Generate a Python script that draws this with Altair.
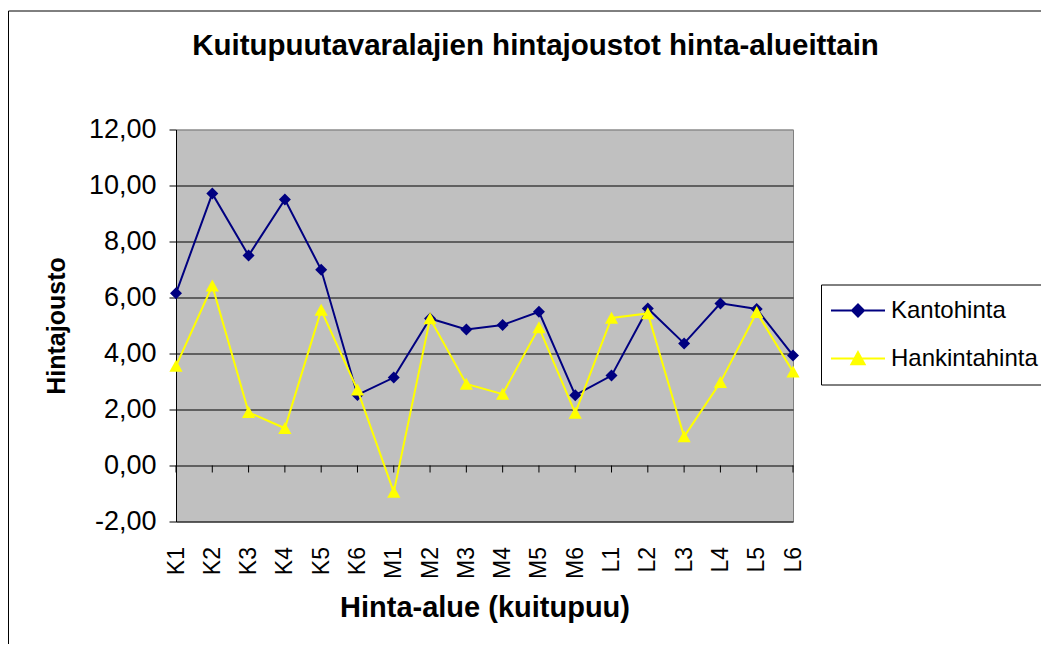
import altair as alt
import pandas as pd

categories = ["K1", "K2", "K3", "K4", "K5", "K6",
              "M1", "M2", "M3", "M4", "M5", "M6",
              "L1", "L2", "L3", "L4", "L5", "L6"]
kantohinta = [6.15, 9.71, 7.50, 9.50, 6.99, 2.52,
              3.14, 5.25, 4.86, 5.02, 5.49, 2.51,
              3.21, 5.61, 4.36, 5.79, 5.59, 3.93]
hankintahinta = [3.55, 6.42, 1.90, 1.33, 5.55, 2.70,
                 -0.95, 5.25, 2.91, 2.55, 4.93, 1.87,
                 5.27, 5.43, 1.03, 2.97, 5.47, 3.35]
series_names = ["Kantohinta", "Hankintahinta"]
series_colors = ["#000080", "#FFFF00"]
# marker shapes (unit box -1..1)
diamond = "M0,-1L1,0L0,1L-1,0Z"
triangle = "M0,-1.05L1.1,0.95L-1.1,0.95Z"
point_shapes = [diamond, triangle]
# legend symbols: line segment through the marker
legend_shapes = ["M-4.5,0L4.5,0" + diamond, "M-4.5,0L4.5,0" + triangle]
y_ticks = [-2, 0, 2, 4, 6, 8, 10, 12]

rows = []
for name, vals in zip(series_names, [kantohinta, hankintahinta]):
    for c, v in zip(categories, vals):
        rows.append({"cat": c, "value": v, "series": name})
df = pd.DataFrame(rows)
cat_df = pd.DataFrame({"cat": categories, "zero": 0.0, "tickend": -0.25})

FONT = "Liberation Sans"

x_enc = alt.X(
    "cat:N", sort=categories,
    scale=alt.Scale(type="point", padding=0),
    axis=alt.Axis(
        labelAngle=270, labelFontSize=23, labelFont=FONT, labelColor="black",
        labelPadding=25, ticks=False, domain=False, grid=False,
        title="Hinta-alue (kuitupuu)", titleFontSize=29, titleFont=FONT,
        titleFontWeight="bold", titleColor="black", titleY=86,
        titleBaseline="middle",
    ),
)
y_enc = alt.Y(
    "value:Q",
    scale=alt.Scale(domain=[-2, 12], nice=False, zero=False),
    axis=alt.Axis(
        values=y_ticks,
        labelExpr="(datum.value < 0 ? '-' : '') + replace(format(abs(datum.value), '.2f'), '.', ',')",
        labelFontSize=27, labelFont=FONT, labelColor="black", labelPadding=13,
        tickSize=7, tickColor="black", domainColor="black", domainWidth=1,
        grid=True,
        gridColor=alt.condition("datum.value === 12", alt.value("#909090"), alt.value("black")),
        gridWidth=1,
        title="Hintajousto", titleFontSize=25, titleFont=FONT,
        titleFontWeight="bold", titleColor="black",
        titleX=-120, titleY=196, titleAngle=270,
        titleAlign="center", titleBaseline="middle",
    ),
)

legend = alt.Legend(
    title=None, orient="none", legendX=645, legendY=155,
    symbolSize=144, symbolStrokeWidth=2, symbolOpacity=1, symbolOffset=11,
    labelFontSize=24, labelFont=FONT, labelColor="black", labelOffset=21,
    rowPadding=24, padding=14, strokeColor="black", fillColor="white",
    labelLimit=0, cornerRadius=0,
)
color_scale = alt.Scale(domain=series_names, range=series_colors)
color_enc = alt.Color("series:N", scale=color_scale, legend=legend)

ticks = alt.Chart(cat_df).mark_rule(color="black", strokeWidth=1).encode(
    x=alt.X("cat:N", sort=categories), y=alt.Y("zero:Q"), y2="tickend:Q"
)

layers = [ticks]
for name, shp in zip(series_names, point_shapes):
    sub = alt.Chart(df).transform_filter(alt.datum.series == name)
    layers.append(sub.mark_line(strokeWidth=2).encode(x=x_enc, y=y_enc, color=color_enc))
    layers.append(sub.mark_point(filled=True, size=144, opacity=1, shape=shp).encode(
        x=x_enc, y=y_enc, color=color_enc))

# legend-only layer (no rows drawn)
legend_layer = alt.Chart(df).transform_filter("datum.value > 1000").mark_point(
    filled=True, size=144
).encode(
    x=x_enc, y=y_enc,
    color=color_enc,
    stroke=alt.Stroke("series:N", scale=color_scale, legend=legend),
    shape=alt.Shape("series:N", scale=alt.Scale(domain=series_names, range=legend_shapes),
                    legend=legend),
)
layers.append(legend_layer)

frame = alt.Chart(cat_df.head(1)).mark_rule(color="black", strokeWidth=1).encode(
    x=alt.value(-167.5), x2=alt.value(-167.5), y=alt.value(-118.5), y2=alt.value(520)
)
frame_top = alt.Chart(cat_df.head(1)).mark_rule(color="black", strokeWidth=1).encode(
    x=alt.value(-167.5), x2=alt.value(880), y=alt.value(-118.5), y2=alt.value(-118.5)
)
layers += [frame, frame_top]

chart = alt.layer(*layers).properties(
    width=617, height=392,
    title=alt.TitleParams(
        "Kuitupuutavaralajien hintajoustot hinta-alueittain",
        font=FONT, fontSize=29.5, fontWeight="bold", color="black",
        anchor="middle", dx=51, offset=-51,
    ),
    padding={"left": 168, "top": 121.5, "right": 248, "bottom": 122},
    autosize=alt.AutoSizeParams(type="none"),
).configure_view(
    fill="#C0C0C0", stroke="#808080", strokeWidth=1
)

chart.save("out.html", embed_options={"renderer": "svg", "actions": False})
